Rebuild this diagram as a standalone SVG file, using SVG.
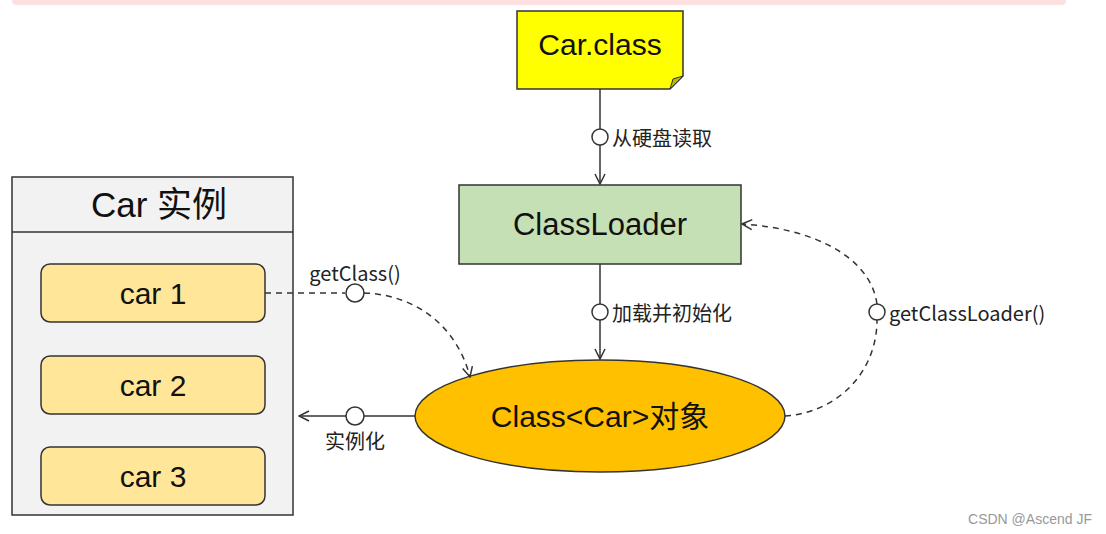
<svg xmlns="http://www.w3.org/2000/svg" width="1106" height="534" viewBox="0 0 1106 534">
<style>
.main{font-family:"Liberation Sans","Noto Sans CJK SC",sans-serif;fill:#111;text-anchor:middle;dominant-baseline:central}
.lbl{font-family:"Noto Sans CJK SC","Liberation Sans",sans-serif;font-size:20px;fill:#222;dominant-baseline:central}
.edge{fill:none;stroke:#333;stroke-width:1.5}
.dash{stroke-dasharray:6 5}
.knob{fill:#fff;stroke:#333;stroke-width:1.5}
</style>
<defs>
<marker id="arr" viewBox="0 0 12 12" refX="11" refY="6" markerWidth="12" markerHeight="12" markerUnits="userSpaceOnUse" orient="auto">
<path d="M1,1 L11,6 L1,11" fill="none" stroke="#333" stroke-width="1.5"/>
</marker>
</defs>
<rect width="1106" height="534" fill="#fff"/>
<path d="M12,0 H1066 V1 Q1066,5 1061,5 H17 Q12,5 12,1 Z" fill="#fde0e0"/>

<g id="carclass">
<path d="M517,11 H683 V76 L670,89 H517 Z" fill="#ffff00" stroke="#333" stroke-width="1.5"/>
<path d="M670,89 L673,79 L683,76 Z" fill="#bdb800" stroke="#333" stroke-width="1"/>
<text class="main" x="600" y="44" font-size="30">Car.class</text>
</g>

<g id="classloader">
<rect x="459" y="185" width="282" height="79" fill="#c5e0b4" stroke="#333" stroke-width="1.5"/>
<text class="main" x="600" y="224" font-size="31">ClassLoader</text>
</g>

<g id="classobj">
<ellipse cx="600" cy="416" rx="185" ry="56" fill="#ffc000" stroke="#333" stroke-width="1.5"/>
<text class="main" x="600" y="416" font-size="30">Class&lt;Car&gt;对象</text>
</g>

<g id="instances">
<rect x="12" y="177" width="281" height="338" fill="#f2f2f2" stroke="#333" stroke-width="1.5"/>
<line x1="12" y1="232" x2="293" y2="232" stroke="#333" stroke-width="1.5"/>
<text class="main" x="159" y="204" font-size="35">Car 实例</text>
</g>
<g id="car1">
<rect x="41" y="264" width="224" height="58" rx="9" fill="#ffe699" stroke="#333" stroke-width="1.5"/>
<text class="main" x="153" y="293" font-size="30">car 1</text>
</g>
<g id="car2">
<rect x="41" y="356" width="224" height="58" rx="9" fill="#ffe699" stroke="#333" stroke-width="1.5"/>
<text class="main" x="153" y="385" font-size="30">car 2</text>
</g>
<g id="car3">
<rect x="41" y="447" width="224" height="58" rx="9" fill="#ffe699" stroke="#333" stroke-width="1.5"/>
<text class="main" x="153" y="476" font-size="30">car 3</text>
</g>

<g id="connectors">
<line class="edge" x1="600" y1="89" x2="600" y2="129"/>
<line class="edge" x1="600" y1="145" x2="600" y2="184" marker-end="url(#arr)"/>
<circle class="knob" cx="600" cy="137" r="8"/>
<text class="lbl" x="612" y="137">从硬盘读取</text>

<line class="edge" x1="600" y1="264" x2="600" y2="304"/>
<line class="edge" x1="600" y1="320" x2="600" y2="359" marker-end="url(#arr)"/>
<circle class="knob" cx="600" cy="312" r="8"/>
<text class="lbl" x="612" y="312">加载并初始化</text>

<path class="edge dash" d="M785,416 C840,412 877,370 877,320"/>
<path class="edge dash" d="M877,304 C870,255 810,228 742,224" marker-end="url(#arr)"/>
<circle class="knob" cx="877" cy="312" r="8"/>
<text class="lbl" x="889" y="312" font-size="21.5">getClassLoader()</text>

<line class="edge dash" x1="265" y1="293" x2="345" y2="293"/>
<path class="edge dash" d="M364,293 C420,295 458,330 470,377" marker-end="url(#arr)"/>
<circle class="knob" cx="355" cy="293" r="9"/>
<text class="lbl" x="355" y="272" text-anchor="middle" font-size="21">getClass()</text>

<line class="edge" x1="415" y1="416" x2="364" y2="416"/>
<line class="edge" x1="346" y1="416" x2="299" y2="416" marker-end="url(#arr)"/>
<circle class="knob" cx="355" cy="416" r="9"/>
<text class="lbl" x="355" y="440" text-anchor="middle">实例化</text>
</g>

<text x="1030" y="519" font-family="Liberation Sans,sans-serif" font-size="14" fill="#999" text-anchor="middle" dominant-baseline="central">CSDN @Ascend JF</text>
</svg>
